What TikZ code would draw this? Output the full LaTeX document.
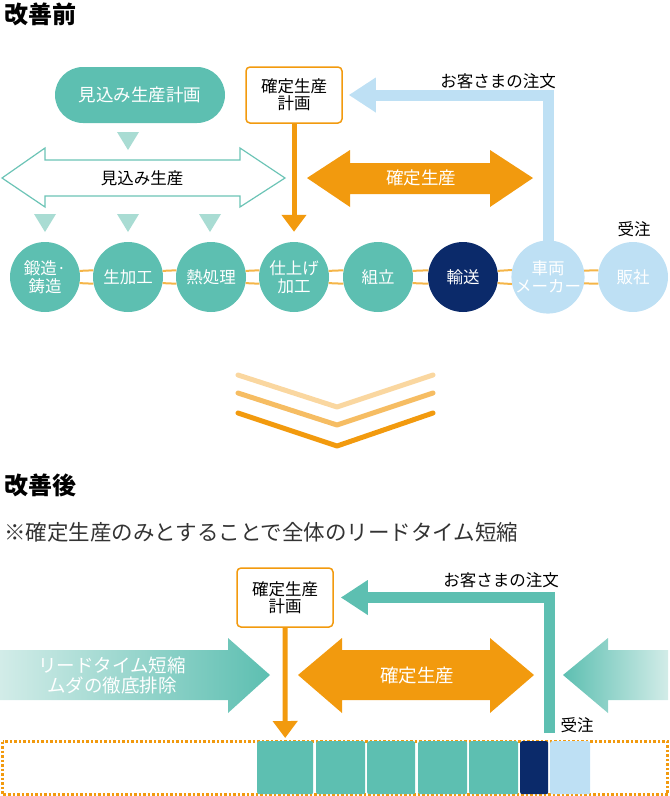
\documentclass[tikz,border=0pt]{standalone}
\usepackage{fontspec}
\setmainfont{Noto Sans CJK JP}
\usepackage{tikz}
\usetikzlibrary{arrows.meta}

\definecolor{prodTeal}{HTML}{5DBFB1}
\definecolor{fadeTeal}{HTML}{D2ECE8}
\definecolor{triTeal}{HTML}{A9DCD3}
\definecolor{lineTeal}{HTML}{6CC4B6}
\definecolor{shipNavy}{HTML}{0B2A6A}
\definecolor{orderSky}{HTML}{BEE0F4}
\definecolor{firmOrange}{HTML}{F29A0E}
\definecolor{linkOrange}{HTML}{F5B548}
\definecolor{chevA}{HTML}{FAD7A0}
\definecolor{chevB}{HTML}{F6BD63}
\definecolor{textGray}{HTML}{333333}

\tikzset{
  stage/.style={circle, fill=#1, minimum size=70pt, inner sep=0pt, text=white,
    align=center, font=\fontsize{16.5}{17.5}\selectfont},
  planbox/.style={draw=firmOrange, line width=1.5pt, fill=white, rounded corners=4pt,
    minimum width=96pt, minimum height=#1, align=center,
    font=\fontsize{16.5}{17}\selectfont},
  title/.style={anchor=west, inner sep=0pt, font=\fontsize{24}{27}\selectfont\bfseries},
  label/.style={inner sep=0pt, text=black, font=\fontsize{16.5}{18}\selectfont},
  bigtext/.style={inner sep=0pt, text=white, align=center, font=\fontsize{17.5}{20}\selectfont},
  blk/.style={rectangle, rounded corners=2pt, inner sep=0pt, minimum height=53pt, anchor=north west},
  tri/.style={fill=triTeal},
  link/.style={linkOrange, line width=2pt},
  downarrow/.style={firmOrange, line width=5pt, -{Triangle[width=24pt, length=17pt]}},
  orderarrow/.style={#1, line width=11pt, -{Triangle[width=33pt, length=27pt]}},
  chev/.style={#1, line width=5pt, line cap=round, line join=round},
}

\begin{document}
\begin{tikzpicture}[x=1pt, y=-1pt]
    \useasboundingbox (0, 0) rectangle (670, 796);

    % before
    \node[title] (before) at (4, 14) {改善前};

    \node[rectangle, rounded corners=28pt, fill=prodTeal, minimum width=170pt, minimum height=56pt,
      text=white, font=\fontsize{17.5}{20}\selectfont] (plan0) at (140, 95) {見込み生産計画};
    \node[planbox=56pt] (plan) at (294, 95) {確定生産\\計画};

    \foreach \x/\y in {128/132, 45/214, 128/214, 210/214}
        \fill[tri] (\x-11, \y) -- (\x+11, \y) -- (\x, \y+18) -- cycle;

    \draw[lineTeal, line width=1.2pt, fill=white] (2, 178) -- (45, 148) -- (45, 160) -- (240, 160)
      -- (240, 148) -- (285, 178) -- (240, 207) -- (240, 196) -- (45, 196) -- (45, 207) -- cycle;
    \node[label] (mass) at (142, 178) {見込み生産};

    \fill[firmOrange] (307, 178) -- (350, 150) -- (350, 163) -- (490, 163) -- (490, 150)
      -- (533, 178) -- (490, 207) -- (490, 194) -- (350, 194) -- (350, 207) -- cycle;
    \node[bigtext] (firm) at (421, 178) {確定生産};

    \foreach \i/\x/\col/\txt in {1/45/prodTeal/{鍛造·\\鋳造}, 2/128/prodTeal/生加工,
        3/211/prodTeal/熱処理, 4/294/prodTeal/{仕上げ\\加工}, 5/378/prodTeal/組立,
        6/463/shipNavy/輸送, 7/548/orderSky/{車両\\メーカー}, 8/633/orderSky/販社}
        \node[stage=\col] (c\i) at (\x, 277) {\txt};

    \foreach \i [evaluate=\i as \j using int(\i+1)] in {1,...,7} {
        \draw[link] (c\i.10.7) -- (c\j.169.3);
        \draw[link] (c\i.-10.7) -- (c\j.-169.3);
    }

    \node[label] (recv) at (634, 229) {受注};

    \draw[downarrow] (plan.south) -- ([yshift=10pt]c4.north);
    \draw[orderarrow=orderSky] ([yshift=-2pt]c7.north) |- ([xshift=6pt]plan.east);
    \node[label] (cust) at (498, 81) {お客さまの注文};

    % chevrons
    \draw[chev=chevA] (238, 375) -- (337, 407) -- (433, 375);
    \draw[chev=chevB] (238, 393) -- (337, 425) -- (433, 393);
    \draw[chev=firmOrange] (238, 413) -- (337, 446) -- (433, 413);

    % after
    \node[title] (after) at (4, 485) {改善後};
    \node[anchor=west, inner sep=0pt, text=textGray, font=\fontsize{21.5}{24}\selectfont]
      (note) at (4, 532) {※確定生産のみとすることで全体のリードタイム短縮};

    \node[planbox=59pt] (plan2) at (285, 597.5) {確定生産\\計画};

    \shade[left color=fadeTeal, right color=prodTeal] (0, 650) -- (228, 650) -- (228, 638)
      -- (270, 675) -- (228, 713) -- (228, 700) -- (0, 700) -- cycle;
    \node[bigtext, font=\fontsize{18.5}{20}\selectfont] (lean) at (112, 675) {リードタイム短縮\\ムダの徹底排除};

    \fill[firmOrange] (298, 675) -- (342, 638) -- (342, 650) -- (490, 650) -- (490, 638)
      -- (534, 675) -- (490, 713) -- (490, 700) -- (342, 700) -- (342, 713) -- cycle;
    \node[bigtext, font=\fontsize{18.5}{20}\selectfont] (firm2) at (417, 675) {確定生産};

    \shade[left color=prodTeal, right color=fadeTeal] (668, 650) -- (608, 650) -- (608, 638)
      -- (563, 675) -- (608, 713) -- (608, 700) -- (668, 700) -- cycle;

    \draw[firmOrange, line width=2.5pt, dash pattern=on 2.5pt off 2pt] (2.5, 741.5) rectangle (667.5, 794.5);

    \foreach \i/\l/\r/\col in {1/257/313/prodTeal, 2/316/365/prodTeal, 3/367/415/prodTeal,
        4/418/467/prodTeal, 5/469/518/prodTeal, 6/520/548/shipNavy, 7/550/590/orderSky}
        \node[blk, fill=\col, minimum width={(\r-\l)*1pt}] (b\i) at (\l, 741) {};

    \coordinate (order) at (549.5, 733);
    \draw[downarrow] (plan2.south) -- ([yshift=3pt]b1.north);
    \draw[orderarrow=prodTeal] (order) |- ([xshift=7pt]plan2.east);
    \node[label] (cust2) at (501, 580) {お客さまの注文};
    \node[label] (recv2) at (577, 725) {受注};
\end{tikzpicture}
\end{document}
